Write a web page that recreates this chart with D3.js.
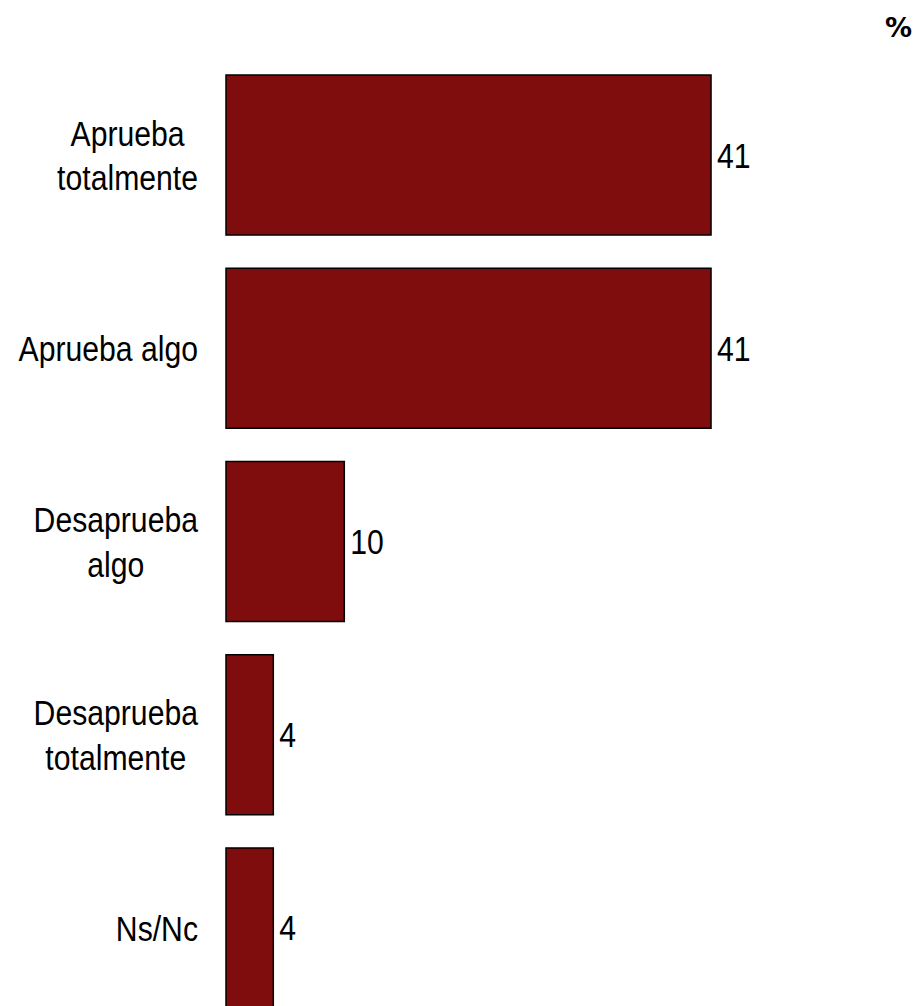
<!DOCTYPE html>
<html><head><meta charset="utf-8">
<script src="https://d3js.org/d3.v7.min.js"></script>
<style>
body{margin:0;background:#fff;}
svg{display:block;}
.lab{font-family:"Liberation Sans Narrow","Liberation Sans",Arial,sans-serif;font-size:35.5px;fill:#000;}
</style></head>
<body>
<script>
const categories = [["Aprueba","totalmente"],["Aprueba algo"],["Desaprueba","algo"],["Desaprueba","totalmente"],["Ns/Nc"]];
const values = [41, 41, 10, 4, 4];
const unitLabel = "%";

const W = 918, H = 1006;
const sx = 0.85;
const svg = d3.select("body").append("svg").attr("width", W).attr("height", H);

const x = d3.scaleLinear().domain([0, 50]).range([226, 817.5]);
const y = d3.scaleBand().domain(d3.range(values.length)).range([75, 1008]).paddingInner(0.172).paddingOuter(0);

svg.selectAll("rect.bar").data(values).join("rect")
  .attr("class","bar")
  .attr("x", x(0))
  .attr("y", (d,i)=>y(i))
  .attr("width", d=>x(d)-x(0))
  .attr("height", y.bandwidth())
  .attr("fill", "#800d0d")
  .attr("stroke", "#000")
  .attr("stroke-width", 1.5);

svg.selectAll("text.val").data(values).join("text")
  .attr("class","lab val")
  .attr("transform", (d,i)=>`translate(${x(d)+6},${y(i)+y.bandwidth()/2+12.5}) scale(${sx},1)`)
  .text(d=>d);

const lineH = 45;
const rightEdge = 198;
categories.forEach((lines,i)=>{
  const cy = y(i)+y.bandwidth()/2;
  const g = svg.append("g");
  const texts = lines.map((ln,j)=>g.append("text").attr("class","lab").attr("text-anchor","middle")
      .attr("y", cy + 13 + (j-(lines.length-1)/2)*lineH)
      .text(ln));
  const maxW = d3.max(texts, t=>t.node().getComputedTextLength());
  texts.forEach(t=>t.attr("x", 0));
  g.attr("transform", `translate(${rightEdge - maxW*sx/2},0) scale(${sx},1)`);
});

svg.append("text").attr("x", 912).attr("y", 37).attr("text-anchor","end")
  .style("font-family","DejaVu Sans, sans-serif").style("font-weight","bold").style("font-size","27px")
  .text(unitLabel);
</script>
</body></html>
